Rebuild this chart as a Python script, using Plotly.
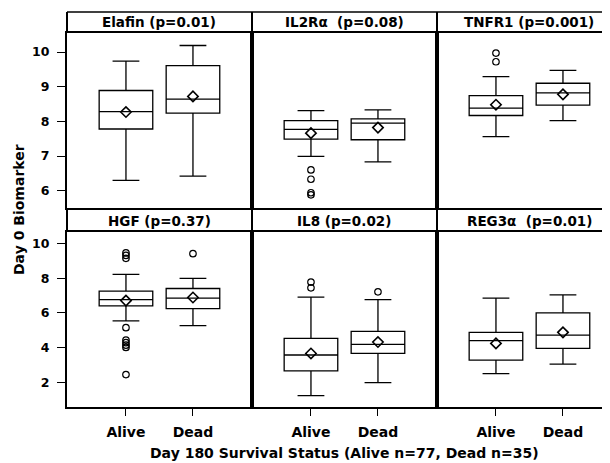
import plotly.graph_objects as go

# ---------------- data ----------------
panel_titles = ["Elafin (p=0.01)", "IL2R\u03b1  (p=0.08)", "TNFR1 (p=0.001)",
                "HGF (p=0.37)", "IL8 (p=0.02)", "REG3\u03b1  (p=0.01)"]
groups = ["Alive", "Dead"]

alive_q1 = [7.78, 7.49, 8.17, 6.41, 2.66, 3.28]
alive_median = [8.28, 7.77, 8.38, 6.77, 3.57, 4.40]
alive_q3 = [8.89, 8.02, 8.74, 7.26, 4.53, 4.88]
alive_low = [6.30, 6.99, 7.56, 5.54, 1.23, 2.50]
alive_high = [9.74, 8.31, 9.29, 8.22, 6.91, 6.85]
alive_mean = [8.27, 7.66, 8.48, 6.71, 3.66, 4.24]
alive_outliers = [[], [6.60, 6.33, 5.94, 5.88], [9.97, 9.72],
                  [9.46, 9.32, 9.15, 5.15, 4.43, 4.28, 4.14, 4.01, 2.44],
                  [7.78, 7.45], []]

dead_q1 = [8.24, 7.47, 8.47, 6.25, 3.66, 3.95]
dead_median = [8.64, 7.95, 8.82, 6.85, 4.18, 4.72]
dead_q3 = [9.61, 8.07, 9.10, 7.41, 4.94, 6.00]
dead_low = [6.42, 6.83, 8.02, 5.27, 1.98, 3.04]
dead_high = [10.19, 8.33, 9.47, 7.99, 6.77, 7.04]
dead_mean = [8.72, 7.82, 8.78, 6.89, 4.32, 4.88]
dead_outliers = [[], [], [], [9.42], [7.22], []]

top_ticks = [6, 7, 8, 9, 10]
bottom_ticks = [2, 4, 6, 8, 10]
top_range = [5.5, 10.55]
bottom_range = [0.57, 10.67]

x_title = "Day 180 Survival Status (Alive n=77, Dead n=35)"
y_title = "Day 0 Biomarker"

# ---------------- layout geometry ----------------
# the page body has an 8px margin; the figure is sized so it ends at the window edge
OFF = 8
W, H = 610 - OFF, 463 - OFF
FONT = "DejaVu Sans"
cols_px = [(67, 252), (252, 437), (437, 610)]
rows_px = [(33, 208), (232, 407)]
header_px = [(12, 33), (209, 232)]
unit_px = 67.0
x0 = 0.12


def xp(px):
    return (px - OFF) / W


def yp(py):
    return 1 - (py - OFF) / H


fig = go.Figure()
group_x = [1, 2]
stats = [
    (alive_q1, alive_median, alive_q3, alive_low, alive_high, alive_mean, alive_outliers),
    (dead_q1, dead_median, dead_q3, dead_low, dead_high, dead_mean, dead_outliers),
]

for i in range(6):
    ax = "" if i == 0 else str(i + 1)
    for g, (q1, med, q3, lo, hi, mn, outl) in enumerate(stats):
        fig.add_trace(go.Box(
            x=[group_x[g]], q1=[q1[i]], median=[med[i]], q3=[q3[i]],
            lowerfence=[lo[i]], upperfence=[hi[i]],
            width=0.8, whiskerwidth=0.5, boxpoints=False,
            fillcolor="white", line=dict(color="black", width=1.3),
            xaxis="x" + ax, yaxis="y" + ax, showlegend=False, hoverinfo="skip"))
        fig.add_trace(go.Scatter(
            x=[group_x[g]], y=[mn[i]], mode="markers",
            marker=dict(symbol="diamond-open", size=8, color="black",
                        line=dict(color="black", width=1.6)),
            xaxis="x" + ax, yaxis="y" + ax, showlegend=False, hoverinfo="skip"))
        if outl[i]:
            fig.add_trace(go.Scatter(
                x=[group_x[g]] * len(outl[i]), y=outl[i], mode="markers",
                marker=dict(symbol="circle-open", size=6.5, color="black",
                            line=dict(color="black", width=1.2)),
                xaxis="x" + ax, yaxis="y" + ax, showlegend=False, hoverinfo="skip"))

layout = dict(
    width=W, height=H, margin=dict(l=0, r=0, t=0, b=0),
    paper_bgcolor="white", plot_bgcolor="white",
    font=dict(family=FONT, color="black", size=13, weight="bold"),
    showlegend=False,
)

shapes = []
annotations = []
for i in range(6):
    r, c = divmod(i, 3)
    name_x = "xaxis" if i == 0 else "xaxis%d" % (i + 1)
    name_y = "yaxis" if i == 0 else "yaxis%d" % (i + 1)
    ax = "" if i == 0 else str(i + 1)
    cx0, cx1 = cols_px[c]
    ry0, ry1 = rows_px[r]
    xr = [x0, x0 + (cx1 - cx0) / unit_px]
    last_col = (c == 2)
    layout[name_x] = dict(
        domain=[xp(cx0), xp(cx1)], range=xr, anchor="y" + ax,
        showgrid=False, zeroline=False, showline=True, mirror=True,
        linecolor="black", linewidth=2,
        tickvals=group_x, ticktext=groups,
        showticklabels=(r == 1), ticks="outside" if r == 1 else "",
        ticklen=7, tickwidth=1.2, tickcolor="black", ticklabelstandoff=4,
        tickfont=dict(family=FONT, size=14, color="black", weight="bold"),
    )
    layout[name_y] = dict(
        domain=[yp(ry1), yp(ry0)], range=top_range if r == 0 else bottom_range,
        anchor="x" + ax, showgrid=False, zeroline=False, showline=True,
        mirror=not last_col, linecolor="black", linewidth=2,
        tickvals=top_ticks if r == 0 else bottom_ticks,
        showticklabels=(c == 0), ticks="outside" if c == 0 else "",
        ticklen=8, tickwidth=1.2, tickcolor="black", ticklabelstandoff=5,
        tickfont=dict(family=FONT, size=12.5, color="black", weight="bold"),
    )
    # header strip
    hy0, hy1 = header_px[r]
    right = cx1 if not last_col else 640
    shapes.append(dict(type="line", xref="paper", yref="paper",
                       x0=xp(cx0), x1=xp(right), y0=yp(hy0), y1=yp(hy0),
                       line=dict(color="black", width=1.3)))
    shapes.append(dict(type="line", xref="paper", yref="paper",
                       x0=xp(cx0), x1=xp(cx0), y0=yp(hy0), y1=yp(hy1),
                       line=dict(color="black", width=2)))
    annotations.append(dict(
        text=panel_titles[i], xref="x" + ax, yref="paper",
        x=1.5, y=yp((hy0 + hy1) / 2), xanchor="center", yanchor="middle",
        showarrow=False, font=dict(family=FONT, size=13.5, color="black", weight="bold")))

annotations.append(dict(
    text=x_title, xref="paper", yref="paper", x=xp(344.5), y=yp(453),
    xanchor="center", yanchor="middle", showarrow=False,
    font=dict(family=FONT, size=14, color="black", weight="bold")))
annotations.append(dict(
    text=y_title, xref="paper", yref="paper", x=xp(19), y=yp(210),
    xanchor="center", yanchor="middle", textangle=-90, showarrow=False,
    font=dict(family=FONT, size=14, color="black", weight="bold")))

layout["shapes"] = shapes
layout["annotations"] = annotations
fig.update_layout(**layout)
fig.write_html("out.html")
